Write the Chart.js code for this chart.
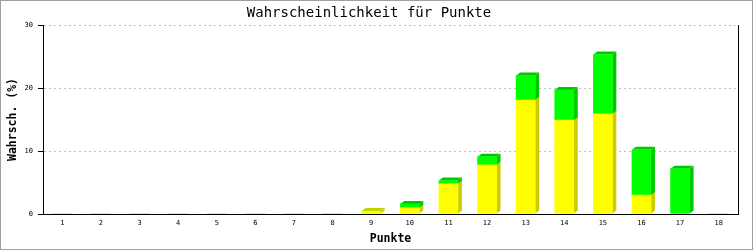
<!DOCTYPE html>
<html>
<head>
<meta charset="utf-8">
<script src="https://cdn.jsdelivr.net/npm/chart.js@4/dist/chart.umd.min.js"></script>
<style>
    html, body { margin: 0; padding: 0; background: #ffffff; }
    canvas { display: block; }
</style>
</head>
<body>
<canvas id="grafico" width="753" height="250"></canvas>
<script>
var punkte = ['1', '2', '3', '4', '5', '6', '7', '8', '9', '10', '11', '12', '13', '14', '15', '16', '17', '18'];
var gelb = [0, 0, 0, 0, 0, 0, 0, 0, 0.46, 1.0, 4.8, 7.8, 18.1, 14.9, 15.9, 3.0, 0, 0];
var gruen = [0, 0, 0, 0, 0, 0, 0, 0, 0, 0.6, 0.5, 1.3, 3.9, 4.8, 9.4, 7.2, 7.2, 0];
var yTicks = [0, 10, 20, 30];

var MONO = '"DejaVu Sans Mono", "Liberation Mono", monospace';
var seiten = ['#cccc00', '#00c800'];

// 3D-Effekt: Seiten- und Deckflaeche hinter jedem Balken
var tiefe = {
    id: 'tiefe',
    beforeDatasetsDraw: function (chart) {
        var ctx = chart.ctx, dx = 4, dy = 3;
        ctx.save();
        chart.data.datasets.forEach(function (ds, i) {
            var meta = chart.getDatasetMeta(i);
            ctx.fillStyle = seiten[i];
            meta.data.forEach(function (bar) {
                var p = bar.getProps(['x', 'y', 'base', 'width'], true);
                if (Math.abs(p.base - p.y) < 0.5) return;
                var l = p.x - p.width / 2, r = p.x + p.width / 2, t = Math.min(p.y, p.base), b = Math.max(p.y, p.base);
                ctx.beginPath();
                ctx.moveTo(r, b);
                ctx.lineTo(r, t);
                ctx.lineTo(r + dx, t - dy);
                ctx.lineTo(r + dx, b - dy);
                ctx.closePath();
                ctx.fill();
                ctx.beginPath();
                ctx.moveTo(l, t);
                ctx.lineTo(l + dx, t - dy);
                ctx.lineTo(r + dx, t - dy);
                ctx.lineTo(r, t);
                ctx.closePath();
                ctx.fill();
            });
        });
        ctx.restore();
    },
    afterDraw: function (chart) {
        var ctx = chart.ctx, a = chart.chartArea;
        ctx.save();
        ctx.strokeStyle = '#000000';
        ctx.lineWidth = 1;
        ctx.beginPath();
        ctx.moveTo(Math.round(a.right) + 0.5, a.top);
        ctx.lineTo(Math.round(a.right) + 0.5, a.bottom);
        ctx.stroke();
        ctx.strokeStyle = '#a0a0a0';
        ctx.strokeRect(0.5, 0.5, chart.width - 1, chart.height - 1);
        ctx.restore();
    }
};

new Chart(document.getElementById('grafico').getContext('2d'), {
    type: 'bar',
    data: {
        labels: punkte,
        datasets: [
            { data: gelb, backgroundColor: '#ffff00', barThickness: 19 },
            { data: gruen, backgroundColor: '#00ff00', barThickness: 19 }
        ]
    },
    options: {
        responsive: false,
        animation: false,
        devicePixelRatio: 1,
        layout: { padding: { left: 0, right: 15, top: 0, bottom: 0 } },
        plugins: {
            legend: { display: false },
            tooltip: { enabled: false },
            title: {
                display: true,
                text: 'Wahrscheinlichkeit für Punkte',
                color: '#000000',
                font: { family: MONO, size: 14, weight: 'normal', lineHeight: 1 },
                padding: { top: 6, bottom: 5 }
            }
        },
        scales: {
            x: {
                stacked: true,
                grid: { display: false, drawTicks: false },
                border: { display: true, color: '#000000', width: 1 },
                ticks: { color: '#000000', font: { family: MONO, size: 7 }, padding: 5, maxRotation: 0, autoSkip: false },
                title: {
                    display: true, text: 'Punkte', color: '#000000',
                    font: { family: MONO, size: 11.5, weight: 'bold' },
                    padding: { top: 0, bottom: 4 }
                },
                afterFit: function (s) { s.height = 36; }
            },
            y: {
                stacked: true,
                min: 0,
                max: 30,
                afterBuildTicks: function (s) { s.ticks = yTicks.map(function (v) { return { value: v }; }); },
                grid: {
                    color: '#c0c0c0', tickColor: '#000000', tickLength: 5, tickBorderDash: [],
                    drawTicks: true
                },
                border: { display: true, color: '#000000', width: 1, dash: [2, 3] },
                ticks: { color: '#000000', font: { family: MONO, size: 7 }, padding: 5 },
                title: {
                    display: true, text: 'Wahrsch. (%)', color: '#000000',
                    font: { family: MONO, size: 11.5, weight: 'bold' },
                    padding: { top: 6, bottom: 0 }
                },
                afterFit: function (s) { s.width = 43; }
            }
        }
    },
    plugins: [tiefe]
});
</script>
</body>
</html>
